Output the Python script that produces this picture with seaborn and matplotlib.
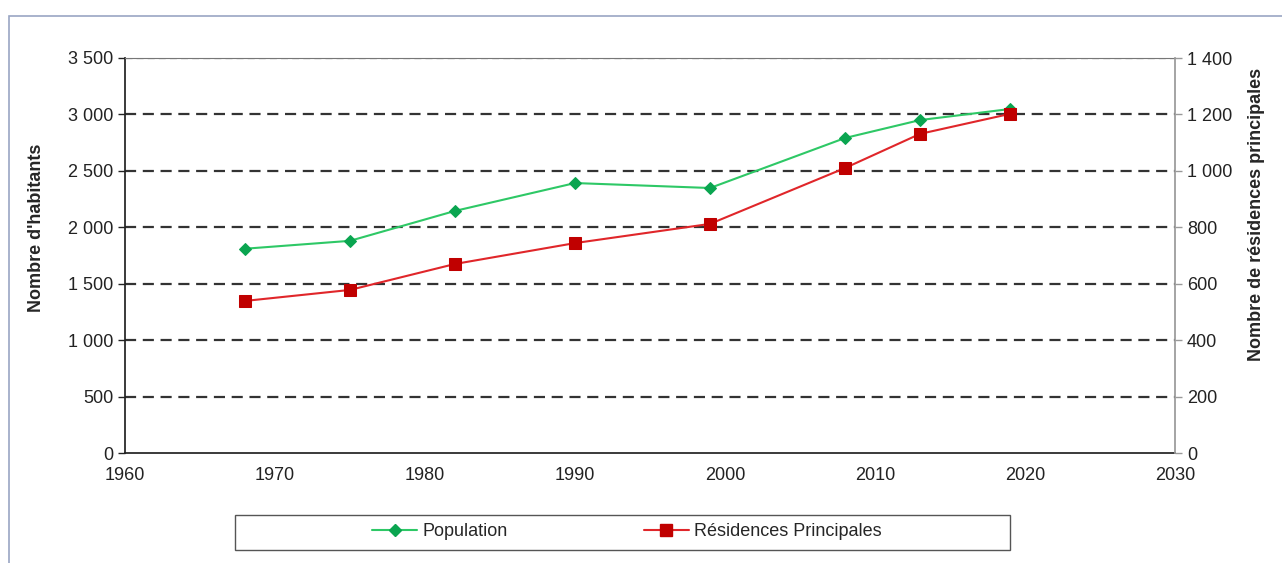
import matplotlib
matplotlib.use("Agg")
import matplotlib.pyplot as plt
import seaborn as sns
import pandas as pd
from matplotlib.patches import Rectangle
from matplotlib.lines import Line2D
from matplotlib.ticker import FuncFormatter

years = [1968, 1975, 1982, 1990, 1999, 2008, 2013, 2019]
population = [1810, 1880, 2145, 2392, 2348, 2791, 2950, 3048]
residences = [539, 578, 670, 744, 812, 1010, 1131, 1202]

x_ticks = [1960, 1970, 1980, 1990, 2000, 2010, 2020, 2030]
left_ticks = [0, 500, 1000, 1500, 2000, 2500, 3000, 3500]
right_ticks = [0, 200, 400, 600, 800, 1000, 1200, 1400]

df = pd.DataFrame({"annee": years, "Population": population, "Résidences Principales": residences})

sns.set_theme(style="white")
plt.rcParams['font.family'] = ['Liberation Sans', 'DejaVu Sans']

fig = plt.figure(figsize=(12.82, 5.63), dpi=100)
fig.patch.set_facecolor("white")
fig.patches.append(Rectangle((9/1282, -0.05), 1.1, 1 - 16/563 + 0.05, transform=fig.transFigure,
                             fill=False, edgecolor="#9aa6c4", linewidth=1.2))

ax = fig.add_axes([125/1282, 1 - 453/563, 1050/1282, 395/563])
ax2 = ax.twinx()

sns.lineplot(data=df, x="annee", y="Population", ax=ax, color="#2ec866", marker="D",
             markersize=6, markerfacecolor="#0aa550", markeredgecolor="#0aa550", linewidth=1.5)
sns.lineplot(data=df, x="annee", y="Résidences Principales", ax=ax2, color="#e0262a", marker="s",
             markersize=8, markerfacecolor="#c00000", markeredgecolor="#c00000", linewidth=1.5)

fmt = FuncFormatter(lambda v, p: f"{int(v):,}".replace(",", " "))
ax.set_xlim(1960, 2030)
ax.set_ylim(0, 3500)
ax2.set_ylim(0, 1400)
ax.set_xticks(x_ticks)
ax.set_yticks(left_ticks)
ax2.set_yticks(right_ticks)
ax.yaxis.set_major_formatter(fmt)
ax2.yaxis.set_major_formatter(fmt)

for t in left_ticks[1:-1]:
    ax.axhline(t, color="#333333", linestyle=(0, (5, 3)), linewidth=1.6, zorder=0)
ax.axhline(left_ticks[-1], color="#aaaaaa", linestyle=(0, (5, 3)), linewidth=1.0, zorder=0)

ax.set_xlabel("")
ax.set_ylabel("Nombre d'habitants", fontsize=13, fontweight="bold")
ax2.set_ylabel("Nombre de résidences principales", fontsize=13, fontweight="bold")
ax.yaxis.set_label_coords((45 - 125) / 1050, (453 - 228) / 395)
ax2.yaxis.set_label_coords((1248 - 125) / 1050, (453 - 214) / 395)

for a in (ax, ax2):
    a.tick_params(axis="both", labelsize=13, colors="#222222", length=5, width=1, direction="out")
ax.tick_params(axis="x", pad=5)
ax.spines["left"].set_color("#222222")
ax.spines["bottom"].set_color("#222222")
ax.spines["top"].set_color("#777777")
ax.spines["top"].set_linewidth(0.8)
ax.spines["right"].set_visible(False)
ax2.spines["top"].set_visible(False)
ax2.spines["left"].set_visible(False)
ax2.spines["bottom"].set_visible(False)
ax2.spines["right"].set_color("#999999")
ax2.tick_params(axis="y", color="#999999", labelcolor="#222222")
ax.tick_params(axis="x", color="#222222")

handles = [
    Line2D([0], [0], color="#2ec866", marker="D", markersize=6, markerfacecolor="#0aa550",
           markeredgecolor="#0aa550", linewidth=1.5),
    Line2D([0], [0], color="#e0262a", marker="s", markersize=8, markerfacecolor="#c00000",
           markeredgecolor="#c00000", linewidth=1.5),
]
leg = fig.legend(handles, ["Population", "Résidences Principales"], ncol=2,
                 loc="center", bbox_to_anchor=(627/1282, 1 - 532/563), frameon=True,
                 fontsize=13, fancybox=False, edgecolor="#555555", columnspacing=7.5,
                 handlelength=2.5, handletextpad=0.3, borderpad=0.6)
leg.get_frame().set_visible(False)
fig.patches.append(Rectangle((235/1282, 1 - 550/563), (1010 - 235)/1282, 35/563,
                             transform=fig.transFigure, fill=False, edgecolor="#555555", linewidth=1.0))

fig.savefig("out.png", dpi=100, facecolor="white")
